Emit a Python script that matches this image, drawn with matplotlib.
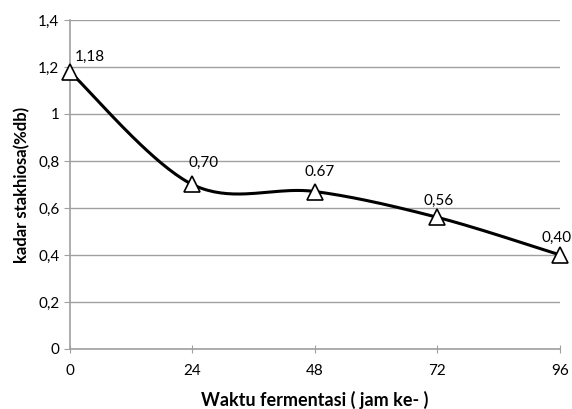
import numpy as np
import matplotlib.pyplot as plt

# data
waktu = [0, 24, 48, 72, 96]
stakhiosa = [1.18, 0.70, 0.67, 0.56, 0.40]
label_teks = ['1,18', '0,70', '0.67', '0,56', '0,40']
# geser label (px) supaya mirip posisi di gambar asli
label_geser = [(20, 15), (11, 22), (5, 20), (1, 16), (-3, 17)]
y_ticks = [0, 0.2, 0.4, 0.6, 0.8, 1.0, 1.2, 1.4]
y_tick_labels = ['0', '0,2', '0,4', '0,6', '0,8', '1', '1,2', '1,4']

plt.rcParams['font.family'] = ['Lato', 'DejaVu Sans']


# kurva halus ala Excel (bezier dengan titik kontrol catmull-rom)
def smooth_curve(xs, ys, n=40):
    x = np.array(xs, dtype=float)
    y = np.array(ys, dtype=float)
    px = np.concatenate([[x[0]], x, [x[-1]]])
    py = np.concatenate([[y[0]], y, [y[-1]]])
    out_x, out_y = [], []
    t = np.linspace(0, 1, n)
    for i in range(1, len(px) - 2):
        p0 = np.array([px[i], py[i]])
        p3 = np.array([px[i + 1], py[i + 1]])
        c1 = p0 + (np.array([px[i + 1], py[i + 1]]) - np.array([px[i - 1], py[i - 1]])) / 6
        c2 = p3 - (np.array([px[i + 2], py[i + 2]]) - np.array([px[i], py[i]])) / 6
        bx = (1 - t) ** 3 * p0[0] + 3 * (1 - t) ** 2 * t * c1[0] + 3 * (1 - t) * t ** 2 * c2[0] + t ** 3 * p3[0]
        by = (1 - t) ** 3 * p0[1] + 3 * (1 - t) ** 2 * t * c1[1] + 3 * (1 - t) * t ** 2 * c2[1] + t ** 3 * p3[1]
        out_x.extend(bx)
        out_y.extend(by)
    return out_x, out_y


fig = plt.figure(figsize=(5.72, 4.09), dpi=100)
ax = fig.add_axes([0.122, 0.147, 0.857, 0.804])

sx, sy = smooth_curve(waktu, stakhiosa)
ax.plot(sx, sy, color='black', linewidth=2.2, zorder=3, clip_on=False)
ax.plot(waktu, stakhiosa, linestyle='none', marker='^', markersize=11,
        markerfacecolor='white', markeredgecolor='black', markeredgewidth=1.2,
        zorder=4, clip_on=False)

for xv, yv, txt, (dx, dy) in zip(waktu, stakhiosa, label_teks, label_geser):
    ax.annotate(txt, (xv, yv), xytext=(dx * 0.72, dy * 0.72), textcoords='offset points',
                ha='center', va='center', fontsize=11)

ax.set_xlim(0, 96)
ax.set_ylim(0, 1.4)
ax.set_xticks(waktu)
ax.set_xticklabels([str(w) for w in waktu])
ax.set_yticks(y_ticks)
ax.set_yticklabels(y_tick_labels)
ax.grid(axis='y', color='#a0a0a0', linewidth=1)
ax.set_axisbelow(True)

for s in ['top', 'right']:
    ax.spines[s].set_visible(False)
for s in ['left', 'bottom']:
    ax.spines[s].set_color('#a0a0a0')
    ax.spines[s].set_linewidth(1.2)
ax.tick_params(axis='both', colors='#a0a0a0', labelcolor='black', labelsize=11, length=4)
ax.tick_params(axis='x', direction='inout', length=6, pad=8)

ax.set_xlabel('Waktu fermentasi ( jam ke- )', fontsize=13, fontweight='bold', labelpad=9)
ax.set_ylabel('kadar stakhiosa(%db)', fontsize=12, fontweight='bold', labelpad=6)

fig.savefig('out.png', dpi=100)
